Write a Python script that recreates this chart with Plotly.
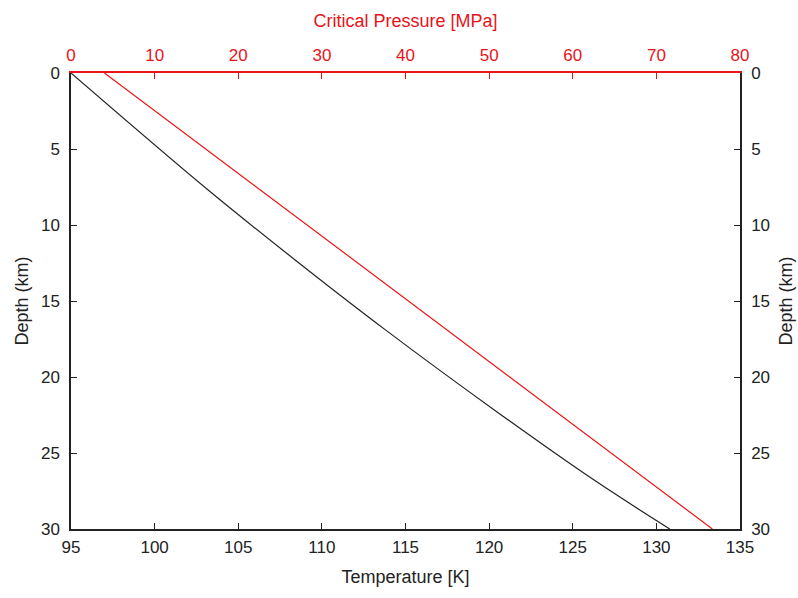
import plotly.graph_objects as go

depth_km = [0, 7.7, 12.3, 16.9, 22.2, 26.8, 30]
temperature_K = [95.0, 103.2, 108.4, 113.8, 120.35, 126.3, 130.8]

depth_p_km = [0, 30]
pressure_MPa = [4.0, 76.7]

font = "Liberation Sans, Arial, sans-serif"
red = "#e8141a"
ink = "#222222"

fig = go.Figure()
fig.add_trace(go.Scatter(x=temperature_K, y=depth_km, mode="lines",
                         line=dict(color=ink, width=1.2, shape="spline"),
                         xaxis="x", yaxis="y", showlegend=False))
fig.add_trace(go.Scatter(x=pressure_MPa, y=depth_p_km, mode="lines",
                         line=dict(color=red, width=1.2),
                         xaxis="x2", yaxis="y", showlegend=False))
fig.add_trace(go.Scatter(x=[95], y=[0], mode="markers", marker=dict(opacity=0),
                         xaxis="x", yaxis="y2", showlegend=False, hoverinfo="skip"))

tickfont = dict(family=font, size=17, color=ink)
titlefont = dict(family=font, size=18, color=ink)
fig.update_layout(
    width=798, height=598,
    margin=dict(l=71, r=58, t=73, b=69, autoexpand=False),
    paper_bgcolor="white", plot_bgcolor="white",
    font=dict(family=font, size=17, color=ink),
    xaxis=dict(range=[95, 135], tickvals=list(range(95, 136, 5)), ticks="inside",
               ticklen=6, tickcolor=ink, showline=True, linecolor=ink, automargin=False,
               linewidth=1.5, showgrid=False, zeroline=False, tickfont=tickfont,
               ticklabelstandoff=2,
               title=dict(text="Temperature [K]", font=titlefont, standoff=14)),
    xaxis2=dict(range=[0, 80], tickvals=list(range(0, 81, 10)), overlaying="x", side="top",
                ticks="inside", ticklen=6, tickcolor=red, showline=True, linecolor=red,
                linewidth=1.5, showgrid=False, zeroline=False, ticklabelstandoff=3,
                automargin=False,
                tickfont=dict(family=font, size=17, color=red),
                title=dict(text="Critical Pressure [MPa]", font=dict(family=font, size=18, color=red), standoff=14)),
    yaxis=dict(range=[30, 0], tickvals=list(range(0, 31, 5)), ticks="inside", ticklen=6,
               tickcolor=ink, showline=True, linecolor=ink, linewidth=1.5, automargin=False,
               showgrid=False, zeroline=False, tickfont=tickfont, ticklabelstandoff=6,
               title=dict(text="Depth (km)", font=titlefont, standoff=8)),
    yaxis2=dict(range=[30, 0], tickvals=list(range(0, 31, 5)), overlaying="y", side="right",
                ticks="inside", ticklen=6, tickcolor=ink, showline=True, automargin=False,
                linecolor=ink, linewidth=1.5, showgrid=False, zeroline=False,
                tickfont=tickfont, ticklabelstandoff=6,
                title=dict(text="Depth (km)", font=titlefont, standoff=10)),
)
fig.write_html("out.html")
